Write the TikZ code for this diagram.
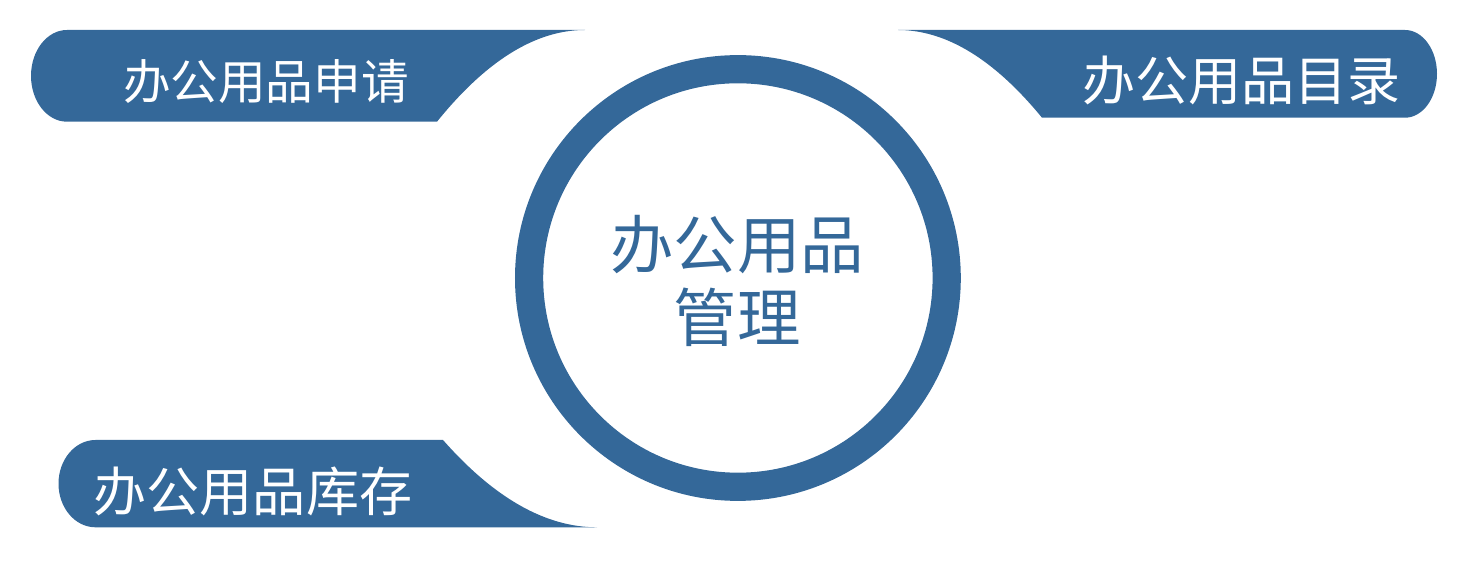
\documentclass[tikz,border=0pt]{standalone}
\usepackage{fontspec}
\usepackage{tikz}
\usepackage{xcolor}
\usetikzlibrary{positioning}
\newfontfamily\cjk{Noto Sans CJK SC}
\definecolor{bannerblue}{RGB}{52,104,153}

\begin{document}
\begin{tikzpicture}[scale=0.2]
\tikzstyle{every node}+=[inner sep=0pt]
\tikzstyle{banner}=[fill=bannerblue]
\tikzstyle{bannertext}=[text=white]
\useasboundingbox (0,0) rectangle (146.6,-57);
\draw [bannerblue, line width=16.05pt] (73.79,-27.8) circle (20.88);
\fill [banner] (58.5,-3.0) -- (6.7,-3.0) arc (90:270:3.6 and 4.585) -- (43.7,-12.17) .. controls (48.63,-6.06) and (53.57,-3.0) .. (58.5,-3.0);
\fill [banner] (89.8,-3.0) -- (140.5,-3.0) arc (90:-90:3.2 and 4.385) -- (104.2,-11.77) .. controls (99.4,-5.92) and (94.6,-3.0) .. (89.8,-3.0);
\fill [banner] (44.3,-44.0) -- (9.55,-44.0) arc (90:270:3.7 and 4.365) -- (59.7,-52.73) .. controls (54.57,-52.73) and (49.43,-49.82) .. (44.3,-44.0);
\node (apply) at (26.6,-8.2) [bannertext,font=\cjk\fontsize{27.1}{32}\selectfont] {办公用品申请};
\node (catalog) at (124.15,-8.1) [bannertext,font=\cjk\fontsize{30.2}{36}\selectfont] {办公用品目录};
\node (stock) at (25.3,-49.1) [bannertext,font=\cjk\fontsize{30.2}{36}\selectfont] {办公用品库存};
\node (centre) at (73.7,-28.05) [text=bannerblue,align=center,font=\cjk\fontsize{36.1}{41.5}\selectfont] {办公用品\\管理};
\end{tikzpicture}
\end{document}
